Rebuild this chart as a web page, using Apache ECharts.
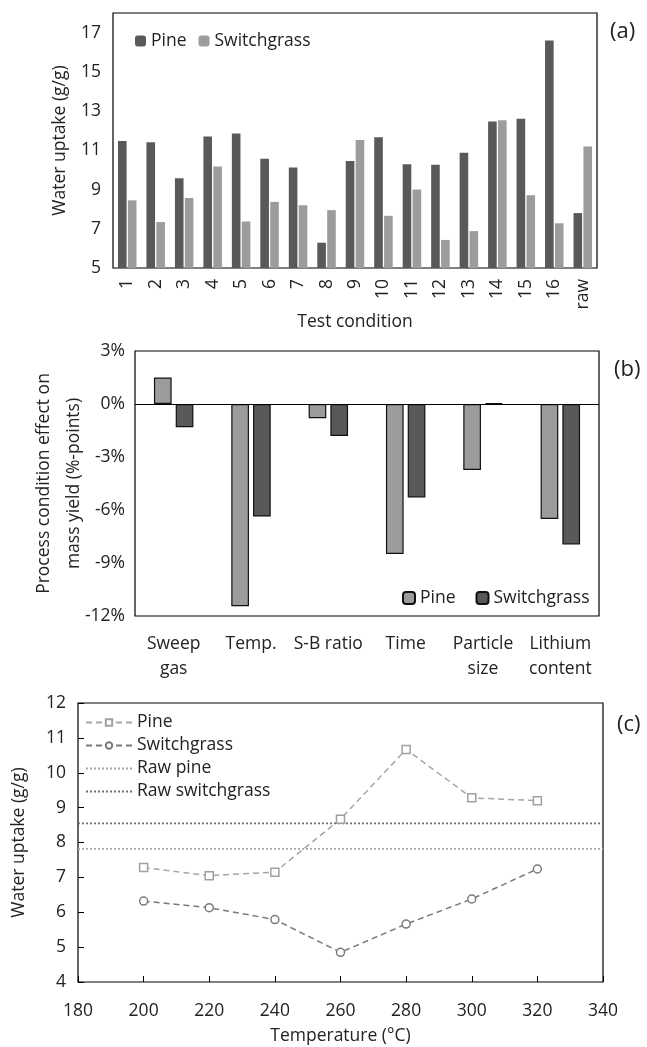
<!DOCTYPE html>
<html>
<head>
<meta charset="utf-8">
<script src="https://cdn.jsdelivr.net/npm/echarts@6/dist/echarts.min.js"></script>
<style>
  html, body { margin: 0; padding: 0; background: #fff; }
  #chart { width: 647px; height: 1047px; }
</style>
</head>
<body>
<div id="chart"></div>
<script>
// (a) water uptake per test condition
const testConditions = ['1','2','3','4','5','6','7','8','9','10','11','12','13','14','15','16','raw'];
const pineUptake   = [11.48, 11.41, 9.57, 11.70, 11.86, 10.57, 10.12, 6.29, 10.45, 11.67, 10.29, 10.26, 10.88, 12.47, 12.61, 16.6, 7.80];
const switchUptake = [8.45, 7.34, 8.57, 10.17, 7.37, 8.37, 8.20, 7.95, 11.53, 7.66, 9.00, 6.43, 6.88, 12.53, 8.71, 7.28, 11.2];

// (b) process condition effect on mass yield
const processConditions = ['Sweep\ngas', 'Temp.', 'S-B ratio', 'Time', 'Particle\nsize', 'Lithium\ncontent'];
const pineYieldEffect   = [1.5, -11.45, -0.81, -8.49, -3.73, -6.51];
const switchYieldEffect = [-1.32, -6.37, -1.81, -5.29, 0.05, -7.95];

// (c) water uptake vs temperature
const temperatures     = [200, 220, 240, 260, 280, 300, 320];
const pineTempUptake   = [7.28, 7.05, 7.15, 8.67, 10.67, 9.28, 9.20];
const switchTempUptake = [6.32, 6.13, 5.79, 4.85, 5.66, 6.38, 7.24];
const rawPine = 7.82;
const rawSwitch = 8.55;
const tempRange = [180, 340];

const font = 'Open Sans';
const fs = 17.5;
const txt = '#222';
const dark = '#595959';
const light = '#9c9c9c';

var chart = echarts.init(document.getElementById('chart'));

var option = {
  animation: false,
  textStyle: { fontFamily: font, color: txt },
  grid: [
    { left: 113, top: 13, width: 484, height: 255, show: true, borderColor: '#000', borderWidth: 1.2 },
    { left: 135, top: 351, width: 464, height: 265, show: true, borderColor: '#000', borderWidth: 1.2 },
    { left: 78, top: 703, width: 525, height: 279, show: true, borderColor: '#000', borderWidth: 1.2 }
  ],
  legend: [
    {
      left: 130, top: 27, itemWidth: 11, itemHeight: 11, itemGap: 12,
      data: ['Pine', 'Switchgrass'],
      textStyle: { fontFamily: font, fontSize: fs, color: txt }
    },
    {
      left: 397, top: 584, itemWidth: 12, itemHeight: 12, itemGap: 20,
      data: ['Pine (b)', 'Switchgrass (b)'],
      formatter: function (n) { return n.replace(' (b)', ''); },
      textStyle: { fontFamily: font, fontSize: fs, color: txt }
    },
    {
      left: 80, top: 706, orient: 'vertical', itemWidth: 46, itemHeight: 8, itemGap: 0,
      data: [
        { name: 'Pine (c)' },
        { name: 'Switchgrass (c)' },
        { name: 'Raw pine', itemStyle: { opacity: 0 } },
        { name: 'Raw switchgrass', itemStyle: { opacity: 0 } }
      ],
      formatter: function (n) { return n.replace(' (c)', ''); },
      textStyle: { fontFamily: font, fontSize: fs, color: txt, lineHeight: 23 }
    }
  ],
  xAxis: [
    {
      gridIndex: 0, type: 'category', data: testConditions,
      axisLine: { show: false }, axisTick: { show: false },
      axisLabel: { rotate: 90, margin: 11, fontSize: fs, color: txt, fontFamily: font },
      name: 'Test condition', nameLocation: 'middle', nameGap: 45,
      nameTextStyle: { fontSize: fs, color: txt, fontFamily: font }
    },
    {
      gridIndex: 1, type: 'category', data: processConditions,
      axisLine: { show: false }, axisTick: { show: false },
      axisLabel: { margin: 16, fontSize: fs, lineHeight: 25, color: txt, fontFamily: font, interval: 0 }
    },
    {
      gridIndex: 2, type: 'value', min: tempRange[0], max: tempRange[1], interval: 20,
      axisLine: { show: false },
      axisTick: { show: true, inside: true, length: 6, lineStyle: { color: '#000' } },
      splitLine: { show: false },
      axisLabel: { margin: 20, fontSize: fs, color: txt, fontFamily: font },
      name: 'Temperature (°C)', nameLocation: 'middle', nameGap: 45,
      nameTextStyle: { fontSize: fs, color: txt, fontFamily: font }
    }
  ],
  yAxis: [
    {
      gridIndex: 0, type: 'value', min: 5, max: 18, interval: 1,
      axisLine: { show: false }, axisTick: { show: false }, splitLine: { show: false },
      axisLabel: {
        margin: 12, fontSize: fs, color: txt, fontFamily: font,
        formatter: function (v) { return (v % 2 === 1 && v < 18) ? String(v) : ''; }
      },
      name: 'Water uptake (g/g)', nameLocation: 'middle', nameGap: 44,
      nameTextStyle: { fontSize: fs, color: txt, fontFamily: font }
    },
    {
      gridIndex: 1, type: 'value', min: -12, max: 3, interval: 3,
      axisLine: { show: false }, axisTick: { show: false }, splitLine: { show: false },
      axisLabel: { margin: 10, fontSize: fs, color: txt, fontFamily: font, formatter: '{value}%' },
      name: 'Process condition effect on\nmass yield (%-points)', nameLocation: 'middle', nameGap: 46,
      nameMoveOverlap: false,
      nameTextStyle: { fontSize: fs, lineHeight: 30, color: txt, fontFamily: font }
    },
    {
      gridIndex: 2, type: 'value', min: 4, max: 12, interval: 1,
      axisLine: { show: false },
      axisTick: { show: true, inside: true, length: 6, lineStyle: { color: '#000' } },
      splitLine: { show: false },
      axisLabel: { margin: 12, fontSize: fs, color: txt, fontFamily: font },
      name: 'Water uptake (g/g)', nameLocation: 'middle', nameGap: 50,
      nameTextStyle: { fontSize: fs, color: txt, fontFamily: font }
    }
  ],
  series: [
    {
      name: 'Pine', type: 'bar', xAxisIndex: 0, yAxisIndex: 0,
      data: pineUptake, itemStyle: { color: dark },
      barGap: '15%', barCategoryGap: '35%'
    },
    {
      name: 'Switchgrass', type: 'bar', xAxisIndex: 0, yAxisIndex: 0,
      data: switchUptake, itemStyle: { color: light },
      barGap: '15%', barCategoryGap: '35%'
    },
    {
      name: 'Pine (b)', type: 'bar', xAxisIndex: 1, yAxisIndex: 1,
      data: pineYieldEffect,
      itemStyle: { color: light, borderColor: '#111', borderWidth: 1.2 },
      barGap: '23%', barCategoryGap: '49%',
      markLine: {
        silent: true, symbol: 'none', label: { show: false },
        lineStyle: { color: '#000', type: 'solid', width: 1.2 },
        data: [{ yAxis: 0 }]
      }
    },
    {
      name: 'Switchgrass (b)', type: 'bar', xAxisIndex: 1, yAxisIndex: 1,
      data: switchYieldEffect,
      itemStyle: { color: dark, borderColor: '#111', borderWidth: 1.2 },
      barGap: '23%', barCategoryGap: '49%'
    },
    {
      name: 'Pine (c)', type: 'line', xAxisIndex: 2, yAxisIndex: 2,
      data: temperatures.map(function (t, i) { return [t, pineTempUptake[i]]; }),
      symbol: 'rect', symbolSize: 8,
      lineStyle: { color: '#a6a6a6', type: [6, 4], width: 1.5 },
      itemStyle: { color: '#fff', borderColor: '#a0a0a0', borderWidth: 1.5 }
    },
    {
      name: 'Switchgrass (c)', type: 'line', xAxisIndex: 2, yAxisIndex: 2,
      data: temperatures.map(function (t, i) { return [t, switchTempUptake[i]]; }),
      symbol: 'circle', symbolSize: 8,
      lineStyle: { color: '#7a7a7a', type: [6, 4], width: 1.5 },
      itemStyle: { color: '#fff', borderColor: '#7a7a7a', borderWidth: 1.5 }
    },
    {
      name: 'Raw pine', type: 'line', xAxisIndex: 2, yAxisIndex: 2,
      data: [[tempRange[0], rawPine], [tempRange[1], rawPine]],
      symbol: 'none',
      lineStyle: { color: '#a6a6a6', type: [2, 2], width: 1.8 },
      itemStyle: { color: '#a6a6a6' }
    },
    {
      name: 'Raw switchgrass', type: 'line', xAxisIndex: 2, yAxisIndex: 2,
      data: [[tempRange[0], rawSwitch], [tempRange[1], rawSwitch]],
      symbol: 'none',
      lineStyle: { color: '#6e6e6e', type: [2, 2], width: 1.8 },
      itemStyle: { color: '#6e6e6e' }
    }
  ],
  graphic: [
    { type: 'text', left: 610, top: 21, style: { text: '(a)', fontSize: 22, fontFamily: font, fill: txt } },
    { type: 'text', left: 614, top: 359, style: { text: '(b)', fontSize: 22, fontFamily: font, fill: txt } },
    { type: 'text', left: 617, top: 714, style: { text: '(c)', fontSize: 22, fontFamily: font, fill: txt } }
  ]
};

chart.setOption(option);
</script>
</body>
</html>
